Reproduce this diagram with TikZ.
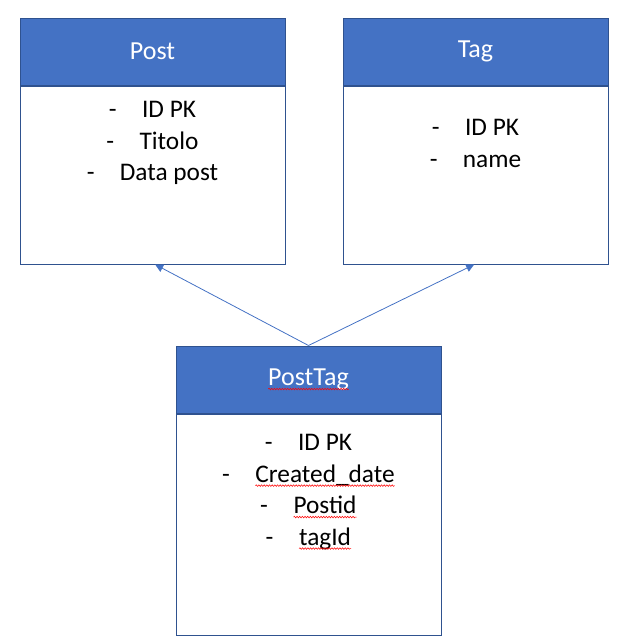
\documentclass[tikz,border=0pt]{standalone}
\usepackage{fontspec}
\setmainfont{Carlito}
\usetikzlibrary{arrows.meta,positioning,decorations.pathmorphing}
\definecolor{hdrblue}{RGB}{68,114,196}
\definecolor{edgeblue}{RGB}{47,82,143}
\newcommand\redwave[1]{\tikz[baseline=(w.base)]{\node[shape=rectangle, draw=none, fill=none, inner sep=0pt, outer sep=0pt, minimum width=0pt, minimum height=0pt, anchor=center] (w) {#1};
  \draw[red, line width=0.4pt, decorate, decoration={snake, amplitude=0.6pt, segment length=2pt}] ([yshift=-2.6pt]w.base west) -- ([yshift=-2.6pt]w.base east);}}
\newcommand\attr[1]{-\hspace{19pt}#1}
\tikzset{
  hdr/.style={rectangle, draw=edgeblue, fill=hdrblue, line width=0.75pt, minimum width=198.75pt, minimum height=50.25pt, inner sep=0pt, text=white, font=\fontsize{19.5}{22}\selectfont},
  bodybox/.style={rectangle, draw=edgeblue, fill=white, line width=0.75pt, minimum width=198.75pt, anchor=north},
  attrs/.style={align=center, font=\fontsize{19}{23.6}\selectfont},
  link/.style={draw=hdrblue, line width=0.6pt, -{Triangle[width=6pt,length=6pt]}}
}
\begin{document}
\begin{tikzpicture}[x=0.75pt,y=-0.75pt]
  \useasboundingbox (0,0) rectangle (644,637);
  % Post
  \node[hdr] (posthdr) at (152.5,51.5) {Post};
  \node[bodybox, minimum height=133.5pt] (postbody) at (posthdr.south) {};
  \node[attrs] (posttxt) at (152.5,143) {\attr{ID PK}\\\attr{Titolo}\\\attr{Data post}};
  % Tag
  \node[hdr] (taghdr) at (475.5,51.5) {Tag};
  \node[bodybox, minimum height=133.5pt] (tagbody) at (taghdr.south) {};
  \node[attrs] (tagtxt) at (475.5,143.5) {\attr{ID PK}\\\attr{name}};
  % PostTag
  \node[hdr] (ptaghdr) at (308.5,379.5) {\redwave{PostTag}};
  \node[bodybox, minimum height=165.75pt] (ptagbody) at (ptaghdr.south) {};
  \node[attrs] (ptagtxt) at (308.5,492) {\attr{ID PK}\\\attr{\redwave{Created\_date}}\\\attr{\redwave{Postid}}\\\attr{\redwave{tagId}}};
  % relazioni
  \draw[link] (ptaghdr.north) -- ([xshift=2pt]postbody.south);
  \draw[link] (ptaghdr.north) -- ([xshift=-1pt]tagbody.south);
\end{tikzpicture}
\end{document}
